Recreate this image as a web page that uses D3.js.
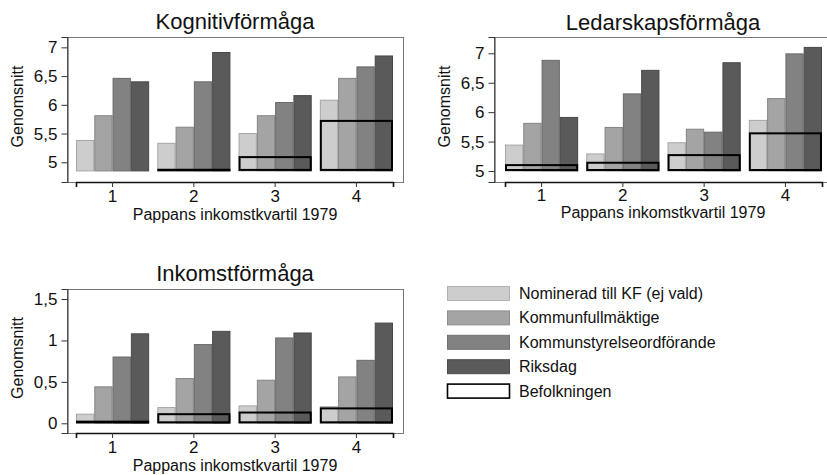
<!DOCTYPE html>
<html>
<head>
<meta charset="utf-8">
<script src="https://cdn.jsdelivr.net/npm/d3@7/dist/d3.min.js"></script>
<style>
    body { margin: 0; background: #fff; }
    svg { display: block; font-family: "Liberation Sans", Arial, sans-serif; }
</style>
</head>
<body>
<div id="chart"></div>
<script>
// categories (father's income quartile) and series names
var quartiles = [1, 2, 3, 4];
var seriesNames = ["Nominerad till KF (ej vald)", "Kommunfullmäktige", "Kommunstyrelseordförande", "Riksdag", "Befolkningen"];
var seriesColors = ["#cdcdcd", "#a4a4a4", "#828282", "#5a5a5a", "none"];

// Kognitivförmåga
var kogNominerad = [5.38, 5.33, 5.50, 6.08];
var kogKF = [5.81, 5.61, 5.81, 6.46];
var kogKSO = [6.46, 6.40, 6.04, 6.66];
var kogRiksdag = [6.40, 6.91, 6.16, 6.85];
var kogBefolkning = [null, 4.87, 5.09, 5.72];

// Ledarskapsförmåga
var ledNominerad = [5.44, 5.29, 5.48, 5.86];
var ledKF = [5.81, 5.74, 5.71, 6.23];
var ledKSO = [6.88, 6.31, 5.66, 6.99];
var ledRiksdag = [5.91, 6.71, 6.84, 7.10];
var ledBefolkning = [5.10, 5.14, 5.27, 5.64];

// Inkomstförmåga
var inkNominerad = [0.11, 0.19, 0.21, 0.20];
var inkKF = [0.44, 0.54, 0.52, 0.56];
var inkKSO = [0.80, 0.95, 1.03, 0.76];
var inkRiksdag = [1.08, 1.11, 1.09, 1.21];
var inkBefolkning = [0.02, 0.11, 0.13, 0.18];

var tickValuesTop = [5, 5.5, 6, 6.5, 7];
var tickValuesInk = [0, 0.5, 1, 1.5];

var width = 827, height = 475;
var sv = d3.formatLocale({decimal: ",", thousands: " ", grouping: [3], currency: ["", " kr"]});
var fmt = sv.format("~g");

var svg = d3.select("#chart").append("svg")
    .attr("width", width)
    .attr("height", height);

var panels = [
    {title: "Kognitivförmåga", series: [kogNominerad, kogKF, kogKSO, kogRiksdag, kogBefolkning],
     ticks: tickValuesTop, domain: [4.657, 7.18], base: 4.85,
     x0: 67, x1: 403, y0: 37, y1: 182, inL: 9, inR: 10, titleY: 29, tickY: 202, xTitleY: 220},
    {title: "Ledarskapsförmåga", series: [ledNominerad, ledKF, ledKSO, ledRiksdag, ledBefolkning],
     ticks: tickValuesTop, domain: [4.813, 7.277], base: 5,
     x0: 494, x1: 832, y0: 37, y1: 182, inL: 11, inR: 10, titleY: 30, tickY: 201, xTitleY: 218},
    {title: "Inkomstförmåga", series: [inkNominerad, inkKF, inkKSO, inkRiksdag, inkBefolkning],
     ticks: tickValuesInk, domain: [-0.117, 1.621], base: 0,
     x0: 67, x1: 403, y0: 289, y1: 433, inL: 9, inR: 10, titleY: 281, tickY: 453, xTitleY: 471}
];

panels.forEach(function (p) {
    var g = svg.append("g");

    var y = d3.scaleLinear().domain(p.domain).range([p.y1, p.y0]);
    var x = d3.scaleBand().domain(quartiles)
        .range([p.x0 + p.inL, p.x1 - p.inR])
        .paddingInner(0.1).paddingOuter(0);
    var xs = d3.scaleBand().domain(d3.range(4))
        .range([0, x.bandwidth()]);

    // plot frame
    g.append("rect")
        .attr("x", p.x0 + 0.5).attr("y", p.y0 + 0.5)
        .attr("width", p.x1 - p.x0).attr("height", p.y1 - p.y0)
        .attr("fill", "#fff").attr("stroke", "#777");

    // group bars
    for (var s = 0; s < 4; s++) {
        (function (s) {
            g.selectAll(null)
                .data(p.series[s])
                .enter().append("rect")
                .attr("x", function (d, i) { return x(quartiles[i]) + xs(s) + 0.5; })
                .attr("y", function (d) { return y(d); })
                .attr("width", xs.bandwidth() - 1)
                .attr("height", function (d) { return y(p.base) - y(d); })
                .attr("fill", seriesColors[s])
                .attr("stroke", d3.rgb(seriesColors[s]).darker(0.6))
                .attr("stroke-width", 1);
        })(s);
    }

    // population outline over the whole group
    g.selectAll(null)
        .data(p.series[4].map(function (d, i) { return {q: quartiles[i], v: d}; })
            .filter(function (d) { return d.v != null; }))
        .enter().append("rect")
        .attr("x", function (d) { return x(d.q) + 1; })
        .attr("y", function (d) { return y(d.v); })
        .attr("width", x.bandwidth() - 2)
        .attr("height", function (d) { return Math.max(0.5, y(p.base) - y(d.v) - 1); })
        .attr("fill", "none")
        .attr("stroke", "#000")
        .attr("stroke-width", 2);

    // y axis
    var yAxis = d3.axisLeft(y).tickValues(p.ticks).tickSize(6).tickPadding(4).tickFormat(fmt);
    var ya = g.append("g").attr("transform", "translate(" + (p.x0 + 0.5) + ",0)").call(yAxis);
    ya.select(".domain").attr("stroke", "#333");
    ya.selectAll("line").attr("stroke", "#333");
    ya.selectAll("text").attr("font-size", 17).attr("fill", "#111").attr("font-family", null);

    // x axis
    var xAxis = d3.axisBottom(x).tickSize(5).tickPadding(0).tickFormat(function (d) { return d; });
    var xa = g.append("g").attr("transform", "translate(0," + p.y1 + ")").call(xAxis);
    xa.select(".domain").attr("stroke", "#111").attr("stroke-width", 1.6);
    xa.selectAll("line").attr("stroke", "#333");
    xa.selectAll("text")
        .attr("font-size", 17).attr("fill", "#111").attr("font-family", null)
        .attr("dy", null)
        .attr("y", p.tickY - p.y1);

    // titles
    g.append("text")
        .attr("x", (p.x0 + p.x1) / 2).attr("y", p.titleY)
        .attr("text-anchor", "middle")
        .attr("font-size", 22).attr("fill", "#111")
        .text(p.title);

    g.append("text")
        .attr("x", (p.x0 + p.x1) / 2).attr("y", p.xTitleY)
        .attr("text-anchor", "middle")
        .attr("font-size", 16).attr("fill", "#111")
        .text("Pappans inkomstkvartil 1979");

    g.append("text")
        .attr("transform", "translate(" + (p.x0 - 44) + "," + ((p.y0 + p.y1) / 2 - 3) + ")rotate(-90)")
        .attr("text-anchor", "middle")
        .attr("font-size", 16).attr("fill", "#111")
        .text("Genomsnitt");
});

// legend
var legend = svg.append("g").attr("transform", "translate(447,286)");
var item = legend.selectAll("g")
    .data(seriesNames)
    .enter().append("g")
    .attr("transform", function (d, i) { return "translate(0," + (i * 24.4) + ")"; });

item.append("rect")
    .attr("x", 0.5).attr("y", 0.5)
    .attr("width", 62).attr("height", 14)
    .attr("fill", function (d, i) { return i == 4 ? "#fff" : seriesColors[i]; })
    .attr("stroke", function (d, i) { return i == 4 ? "#000" : d3.rgb(seriesColors[i]).darker(0.4); })
    .attr("stroke-width", function (d, i) { return i == 4 ? 1.6 : 1; });

item.append("text")
    .attr("x", 72).attr("y", 13)
    .attr("font-size", 16).attr("fill", "#111")
    .text(function (d) { return d; });
</script>
</body>
</html>
